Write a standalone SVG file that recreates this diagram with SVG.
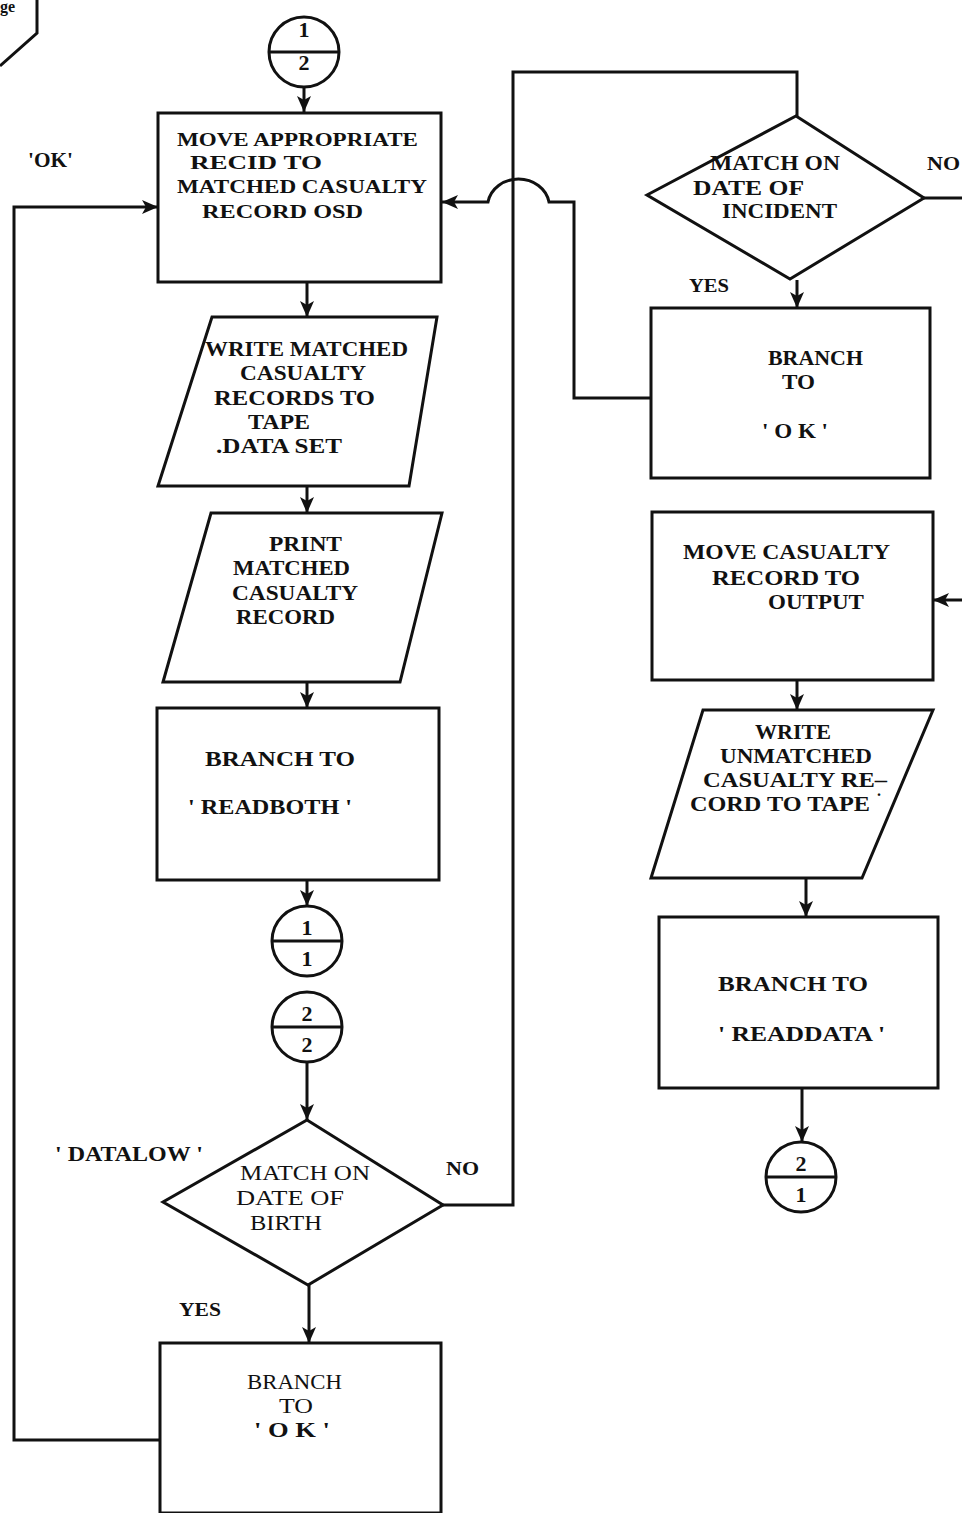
<svg xmlns="http://www.w3.org/2000/svg" width="962" height="1513" viewBox="0 0 962 1513">
<style>
.s{fill:none;stroke:#111;stroke-width:3;stroke-linejoin:miter}
.b{fill:#fff;stroke:#111;stroke-width:3}
.t{font-family:"Liberation Serif","Times New Roman",serif;font-size:22px;fill:#111;font-weight:bold}
.d{font-family:"Liberation Serif","Times New Roman",serif;font-size:22px;fill:#111;font-weight:bold;text-anchor:middle}
</style>
<defs>
<marker id="ah" markerUnits="userSpaceOnUse" markerWidth="18" markerHeight="16" refX="16" refY="8" orient="auto">
<path d="M0,1 L16,8 L0,15 L4,8 z" fill="#111"/>
</marker>
</defs>
<rect width="962" height="1513" fill="#fff"/>

<g id="connectors">
<line class="s" x1="304" y1="87" x2="304" y2="112" marker-end="url(#ah)"/>
<line class="s" x1="307" y1="282" x2="307" y2="317" marker-end="url(#ah)"/>
<line class="s" x1="307" y1="487" x2="307" y2="513" marker-end="url(#ah)"/>
<line class="s" x1="307" y1="683" x2="307" y2="708" marker-end="url(#ah)"/>
<line class="s" x1="307" y1="880" x2="307" y2="906" marker-end="url(#ah)"/>
<line class="s" x1="307" y1="1062" x2="307" y2="1120" marker-end="url(#ah)"/>
<line class="s" x1="309" y1="1285" x2="309" y2="1343" marker-end="url(#ah)"/>
<polyline class="s" points="160,1440 14,1440 14,207 158,207" marker-end="url(#ah)"/>
<polyline class="s" points="443,1205 513,1205 513,72 797,72 797,116"/>
<line class="s" x1="797" y1="280" x2="797" y2="308" marker-end="url(#ah)"/>
<path class="s" d="M652,398 L574,398 L574,202 L549,202 A31 28 0 0 0 488 202 L442,202" marker-end="url(#ah)"/>
<line class="s" x1="923" y1="198" x2="962" y2="198"/>
<line class="s" x1="962" y1="600" x2="933" y2="600" marker-end="url(#ah)"/>
<line class="s" x1="797" y1="680" x2="797" y2="710" marker-end="url(#ah)"/>
<line class="s" x1="806" y1="878" x2="806" y2="917" marker-end="url(#ah)"/>
<line class="s" x1="802" y1="1088" x2="802" y2="1142" marker-end="url(#ah)"/>
</g>

<g id="page-ref">
<polyline class="s" points="37,0 37,33 0,66"/>
<text x="0" y="12" style="font-family:'Liberation Serif',serif;font-size:16px;font-weight:bold;fill:#111">ge</text>
</g>

<g id="conn-1-2">
<circle class="b" cx="304" cy="52" r="35"/>
<line class="s" x1="269" y1="52" x2="339" y2="52"/>
<text class="d" x="304" y="37">1</text>
<text class="d" x="304" y="70">2</text>
</g>

<g id="move-recid">
<rect class="b" x="158" y="113" width="283" height="169"/>
<text class="t" x="177" y="146" textLength="241" lengthAdjust="spacingAndGlyphs" style="font-size:19px">MOVE  APPROPRIATE</text>
<text class="t" x="190" y="169" textLength="132" lengthAdjust="spacingAndGlyphs" style="font-size:19px">RECID  TO</text>
<text class="t" x="177" y="193" textLength="250" lengthAdjust="spacingAndGlyphs" style="font-size:19px">MATCHED CASUALTY</text>
<text class="t" x="202" y="218" textLength="161" lengthAdjust="spacingAndGlyphs" style="font-size:19px">RECORD  OSD</text>
</g>
<text class="t" x="28" y="167" textLength="45" lengthAdjust="spacingAndGlyphs">'OK'</text>

<g id="write-matched">
<polygon class="b" points="212,317 437,317 409,486 158,486"/>
<text class="t" x="205" y="356" textLength="203" lengthAdjust="spacingAndGlyphs">WRITE MATCHED</text>
<text class="t" x="240" y="380" textLength="126" lengthAdjust="spacingAndGlyphs">CASUALTY</text>
<text class="t" x="214" y="405" textLength="161" lengthAdjust="spacingAndGlyphs">RECORDS  TO</text>
<text class="t" x="248" y="429" textLength="62" lengthAdjust="spacingAndGlyphs">TAPE</text>
<text class="t" x="216" y="453" textLength="126" lengthAdjust="spacingAndGlyphs">.DATA SET</text>
</g>

<g id="print-matched">
<polygon class="b" points="211,513 442,513 400,682 163,682"/>
<text class="t" x="269" y="551" textLength="73" lengthAdjust="spacingAndGlyphs">PRINT</text>
<text class="t" x="233" y="575" textLength="117" lengthAdjust="spacingAndGlyphs">MATCHED</text>
<text class="t" x="232" y="600" textLength="126" lengthAdjust="spacingAndGlyphs">CASUALTY</text>
<text class="t" x="236" y="624" textLength="99" lengthAdjust="spacingAndGlyphs">RECORD</text>
</g>

<g id="branch-readboth">
<rect class="b" x="157" y="708" width="282" height="172"/>
<text class="t" x="205" y="766" textLength="150" lengthAdjust="spacingAndGlyphs">BRANCH  TO</text>
<text class="t" x="188" y="814" textLength="164" lengthAdjust="spacingAndGlyphs">' READBOTH '</text>
</g>

<g id="conn-1-1">
<circle class="b" cx="307" cy="941" r="35"/>
<line class="s" x1="272" y1="941" x2="342" y2="941"/>
<text class="d" x="307" y="935">1</text>
<text class="d" x="307" y="966">1</text>
</g>

<g id="conn-2-2">
<circle class="b" cx="307" cy="1027" r="35"/>
<line class="s" x1="272" y1="1027" x2="342" y2="1027"/>
<text class="d" x="307" y="1021">2</text>
<text class="d" x="307" y="1052">2</text>
</g>

<g id="match-birth">
<polygon class="b" points="307,1120 443,1205 308,1285 163,1202"/>
<text class="t" x="240" y="1180" textLength="130" lengthAdjust="spacingAndGlyphs" style="font-weight:normal">MATCH ON</text>
<text class="t" x="236" y="1205" textLength="108" lengthAdjust="spacingAndGlyphs" style="font-weight:normal">DATE  OF</text>
<text class="t" x="250" y="1230" textLength="72" lengthAdjust="spacingAndGlyphs" style="font-weight:normal">BIRTH</text>
</g>
<text class="t" x="55" y="1161" textLength="148" lengthAdjust="spacingAndGlyphs">' DATALOW '</text>
<text class="t" x="446" y="1175" textLength="33" lengthAdjust="spacingAndGlyphs" style="font-size:19px">NO</text>
<text class="t" x="179" y="1316" textLength="42" lengthAdjust="spacingAndGlyphs" style="font-size:19px">YES</text>

<g id="branch-ok-bottom">
<rect class="b" x="160" y="1343" width="281" height="170"/>
<text class="t" x="247" y="1389" textLength="95" lengthAdjust="spacingAndGlyphs" style="font-weight:normal">BRANCH</text>
<text class="t" x="279" y="1413" textLength="34" lengthAdjust="spacingAndGlyphs" style="font-weight:normal">TO</text>
<text class="t" x="254" y="1437" textLength="76" lengthAdjust="spacingAndGlyphs">' O K '</text>
</g>

<g id="match-incident">
<polygon class="b" points="796,116 924,198 790,279 647,195"/>
<text class="t" x="710" y="170" textLength="130" lengthAdjust="spacingAndGlyphs">MATCH ON</text>
<text class="t" x="693" y="195" textLength="111" lengthAdjust="spacingAndGlyphs">DATE  OF</text>
<text class="t" x="722" y="218" textLength="115" lengthAdjust="spacingAndGlyphs">INCIDENT</text>
</g>
<text class="t" x="927" y="170" textLength="33" lengthAdjust="spacingAndGlyphs" style="font-size:19px">NO</text>
<text class="t" x="689" y="292" textLength="40" lengthAdjust="spacingAndGlyphs" style="font-size:19px">YES</text>

<g id="branch-ok-right">
<rect class="b" x="651" y="308" width="279" height="170"/>
<text class="t" x="768" y="365" textLength="95" lengthAdjust="spacingAndGlyphs">BRANCH</text>
<text class="t" x="782" y="389" textLength="33" lengthAdjust="spacingAndGlyphs">TO</text>
<text class="t" x="762" y="438" textLength="66" lengthAdjust="spacingAndGlyphs">' O K '</text>
</g>

<g id="move-casualty">
<rect class="b" x="652" y="512" width="281" height="168"/>
<text class="t" x="683" y="559" textLength="207" lengthAdjust="spacingAndGlyphs">MOVE  CASUALTY</text>
<text class="t" x="712" y="585" textLength="148" lengthAdjust="spacingAndGlyphs">RECORD  TO</text>
<text class="t" x="768" y="609" textLength="96" lengthAdjust="spacingAndGlyphs">OUTPUT</text>
</g>

<g id="write-unmatched">
<polygon class="b" points="703,710 933,710 862,878 651,878"/>
<text class="t" x="755" y="739" textLength="76" lengthAdjust="spacingAndGlyphs">WRITE</text>
<text class="t" x="720" y="763" textLength="152" lengthAdjust="spacingAndGlyphs">UNMATCHED</text>
<text class="t" x="703" y="787" textLength="184" lengthAdjust="spacingAndGlyphs">CASUALTY RE–</text>
<text class="t" x="690" y="811" textLength="180" lengthAdjust="spacingAndGlyphs">CORD TO TAPE</text>
<text class="t" x="877" y="796" style="font-size:16px">.</text>
</g>

<g id="branch-readdata">
<rect class="b" x="659" y="917" width="279" height="171"/>
<text class="t" x="718" y="991" textLength="150" lengthAdjust="spacingAndGlyphs">BRANCH  TO</text>
<text class="t" x="718" y="1041" textLength="167" lengthAdjust="spacingAndGlyphs">' READDATA '</text>
</g>

<g id="conn-2-1">
<circle class="b" cx="801" cy="1177" r="35"/>
<line class="s" x1="766" y1="1177" x2="836" y2="1177"/>
<text class="d" x="801" y="1171">2</text>
<text class="d" x="801" y="1202">1</text>
</g>
</svg>
